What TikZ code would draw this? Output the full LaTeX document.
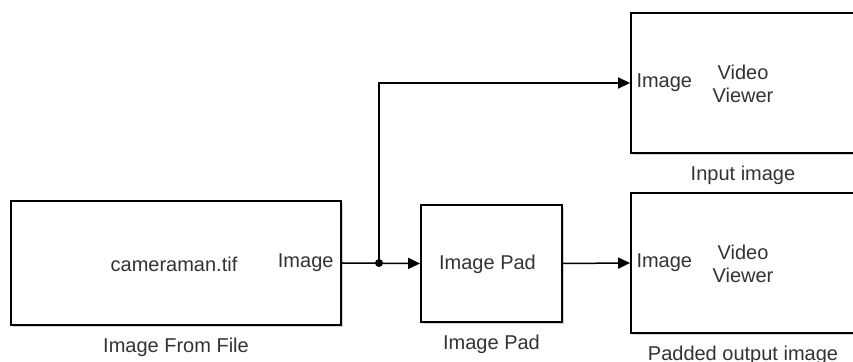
\documentclass[tikz,border=0pt]{standalone}
\usepackage{fontspec}
\setmainfont{Liberation Sans}
\usetikzlibrary{arrows.meta,positioning,calc,shadows}

\begin{document}
\begin{tikzpicture}[
  x=0.5pt, y=-0.5pt,
  font=\fontsize{10}{11.5}\selectfont,
  block/.style={draw, line width=0.9pt, fill=white, inner sep=0pt,
    drop shadow={shadow xshift=1.2pt, shadow yshift=-1.2pt, fill=black!40, opacity=0.45}},
  txt/.style={text=black!80, inner sep=0pt, align=center},
  lbl/.style={text=black!80, font=\fontsize{10}{11.5}\selectfont},
  wire/.style={-{Triangle[length=6pt, width=5.5pt]}, line width=0.75pt},
  label distance=2.5pt
]
\useasboundingbox (0,0) rectangle (853,362);
\fill[white] (0,0) rectangle (853,362);
\clip (0,0) rectangle (853,362);

% blocks
\node[block, minimum width=165pt, minimum height=62pt, label={[lbl]below:Image From File}] (iff) at (176,263) {};
\node[block, minimum width=70.5pt, minimum height=58.5pt, label={[lbl]below:Image Pad}] (pad) at (491.5,263.5) {};
\node[block, minimum width=112pt, minimum height=70pt, label={[lbl]below:Input image}] (vv1) at (743,83) {};
\node[block, minimum width=112pt, minimum height=70pt, label={[lbl]below:Padded output image}] (vv2) at (743,263) {};

% block texts
\node[txt] (iffname) at ($(iff.center)+(-2,1)$) {cameraman.tif};
\node[txt, left=4pt of iff.east] (iffout) {Image};
\node[txt] (padname) at ($(pad.center)+(-4,1)$) {Image Pad};
\node[txt, right=3pt of vv1.west] (vv1in) {Image};
\node[txt] (vv1name) at ($(vv1.center)+(0,1)$) {Video\\Viewer};
\node[txt, right=3pt of vv2.west] (vv2in) {Image};
\node[txt] (vv2name) at ($(vv2.center)+(0,1)$) {Video\\Viewer};

% signals
\coordinate (split) at (379,263);
\draw[wire] (iff.east) -- (pad.west);
\draw[wire] (split) |- (vv1.west);
\draw[wire] (pad.east) -- (vv2.west);
\fill (split) circle (2pt);
\end{tikzpicture}
\end{document}
